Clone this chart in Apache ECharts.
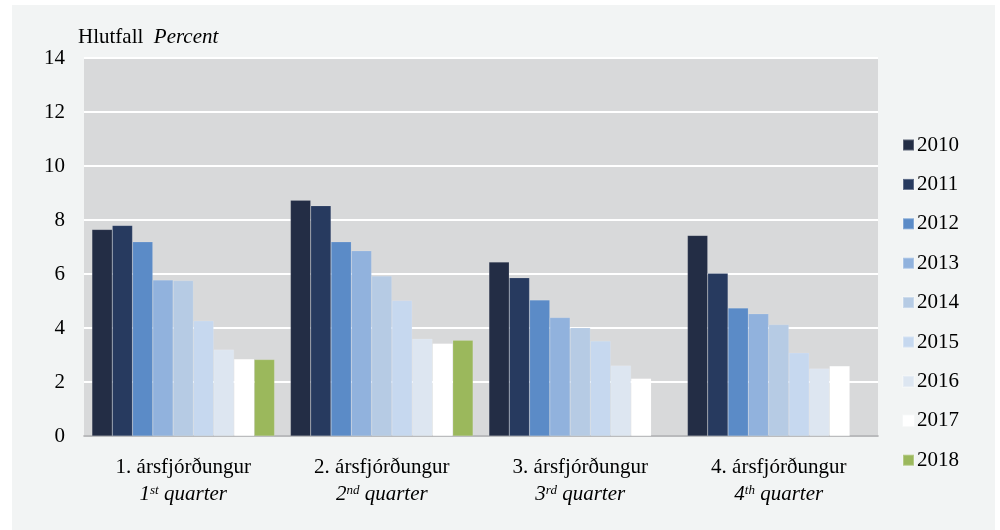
<!DOCTYPE html>
<html>
<head>
<meta charset="utf-8">
<script src="https://cdn.jsdelivr.net/npm/echarts@6/dist/echarts.min.js"></script>
<style>
html,body{margin:0;padding:0;background:#ffffff;width:1000px;height:530px;overflow:hidden;}
#chart{position:absolute;left:12px;top:5px;width:983px;height:525px;}
</style>
</head>
<body>
<div id="chart"></div>
<script>
const categories = ['1. ársfjórðungur', '2. ársfjórðungur', '3. ársfjórðungur', '4. ársfjórðungur'];
const ordinals = ['1', '2', '3', '4'];
const suffixes = ['st', 'nd', 'rd', 'th'];
const years = ['2010', '2011', '2012', '2013', '2014', '2015', '2016', '2017', '2018'];
const y2010 = [7.65, 8.73, 6.44, 7.43];
const y2011 = [7.80, 8.53, 5.86, 6.03];
const y2012 = [7.19, 7.19, 5.04, 4.74];
const y2013 = [5.78, 6.86, 4.39, 4.53];
const y2014 = [5.76, 5.93, 4.01, 4.13];
const y2015 = [4.27, 5.02, 3.52, 3.08];
const y2016 = [3.20, 3.60, 2.61, 2.50];
const y2017 = [2.85, 3.43, 2.13, 2.59];
const y2018 = [2.83, 3.55, null, null];
const yTicks = [0, 2, 4, 6, 8, 10, 12, 14];

const seriesValues = [y2010, y2011, y2012, y2013, y2014, y2015, y2016, y2017, y2018];
const colors = ['#232d45', '#273a5f', '#5b8bc7', '#91b2dd', '#b6cbe4', '#c6d8ef', '#dde6f1', '#ffffff', '#9bb85c'];

const serif = '"Liberation Serif", "DejaVu Serif", serif';

const chart = echarts.init(document.getElementById('chart'));
chart.setOption({
  backgroundColor: '#f2f4f4',
  animation: false,
  color: colors,
  textStyle: { fontFamily: serif },
  grid: { left: 72, top: 53, right: 117, bottom: 94, show: true, backgroundColor: '#d8d9da', borderWidth: 0 },
  legend: {
    orient: 'vertical',
    left: 885, top: 124,
    itemWidth: 11, itemHeight: 11, itemGap: 17.4,
    icon: 'rect',
    textStyle: { fontFamily: serif, fontSize: 21, color: '#000', lineHeight: 22, padding: [0, 0, 0, -2] },
    data: years
  },
  graphic: [{
    type: 'text', left: 66, top: 22,
    style: {
      text: '{a|Hlutfall  }{b|Percent}',
      rich: {
        a: { fontFamily: serif, fontSize: 21, fill: '#000' },
        b: { fontFamily: serif, fontSize: 21, fontStyle: 'italic', fill: '#000' }
      }
    }
  }],
  xAxis: {
    type: 'category',
    data: categories,
    axisLine: { lineStyle: { color: '#a3a4a6', width: 1.5 } },
    axisTick: { show: false },
    axisLabel: {
      margin: 18,
      formatter: function (v, i) {
        return '{a|' + v + '}\n{i|' + ordinals[i] + '}{s|' + suffixes[i] + '}{i| quarter}';
      },
      rich: {
        a: { fontFamily: serif, fontSize: 21, color: '#000', lineHeight: 27 },
        i: { fontFamily: serif, fontSize: 21, fontStyle: 'italic', color: '#000', lineHeight: 27 },
        s: { fontFamily: serif, fontSize: 13, fontStyle: 'italic', color: '#000', lineHeight: 27, verticalAlign: 'top', padding: [3, 0, 0, 0] }
      }
    }
  },
  yAxis: {
    type: 'value',
    min: yTicks[0], max: yTicks[yTicks.length - 1], interval: 2,
    axisLine: { show: false },
    axisTick: { show: false },
    splitLine: { lineStyle: { color: '#ffffff', width: 2 } },
    axisLabel: { margin: 19, fontFamily: serif, fontSize: 21, color: '#000' }
  },
  series: years.map((y, k) => ({
    name: y,
    type: 'bar',
    data: seriesValues[k],
    barGap: '0%',
    barCategoryGap: '8%',
    itemStyle: { color: colors[k], borderColor: 'rgba(255,255,255,0.25)', borderWidth: 0.5 }
  }))
});
</script>
</body>
</html>
